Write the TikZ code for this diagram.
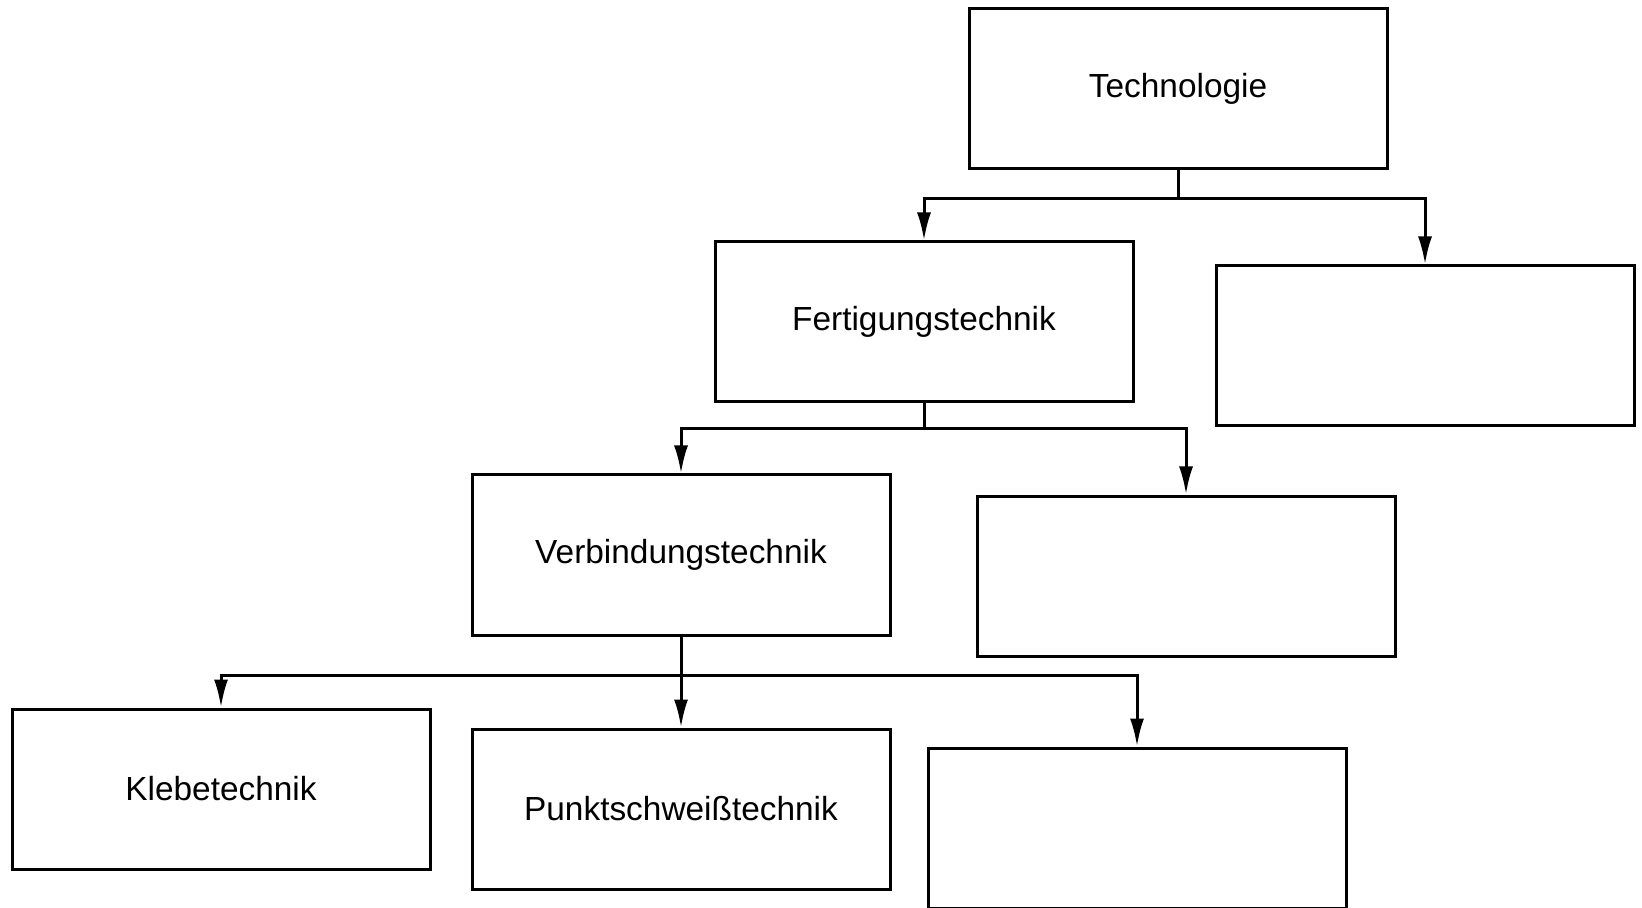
\documentclass[tikz,border=0pt]{standalone}
\usepackage{fontspec}
\setmainfont{Liberation Sans}
\usepackage{tikz}
\usetikzlibrary{positioning,arrows.meta}

\begin{document}
\begin{tikzpicture}[x=0.5pt,y=-0.5pt,
    box/.style={draw, line width=1.5pt, minimum width=209pt, minimum height=80pt,
                inner sep=0pt, font=\fontsize{16.7}{20}\selectfont},
    link/.style={line width=1.5pt},
    pfeil/.style={link, -{Latex[length=14pt,width=7pt]}}]
                    \useasboundingbox (0,0) rectangle (1642,908);
                    \node[box] (tech) at (1178,89) {Technologie};
                    \node[box] (fert) at (924,322) {Fertigungstechnik};
                    \node[box] (rechts2) at (1425,346) {};
                    \node[box] (verb) at (681,555) {Verbindungstechnik};
                    \node[box] (rechts3) at (1186,576) {};
                    \node[box] (klebe) at (221,789) {Klebetechnik};
                    \node[box] (punkt) at (681,809) {Punktschweißtechnik};
                    \node[box] (rechts4) at (1137,828) {};
                    \coordinate (bus1) at (1178,199);
                    \coordinate (bus2) at (924,429);
                    \coordinate (bus3) at (681,675);
                    \draw[link] (tech.south) -- (bus1);
                    \draw[pfeil] (bus1) -| (fert.north);
                    \draw[pfeil] (bus1) -| (rechts2.north);
                    \draw[link] (fert.south) -- (bus2);
                    \draw[pfeil] (bus2) -| (verb.north);
                    \draw[pfeil] (bus2) -| (rechts3.north);
                    \draw[pfeil] (verb.south) -- (punkt.north);
                    \draw[pfeil] (bus3) -| (klebe.north);
                    \draw[pfeil] (bus3) -| (rechts4.north);
                \end{tikzpicture}
\end{document}
